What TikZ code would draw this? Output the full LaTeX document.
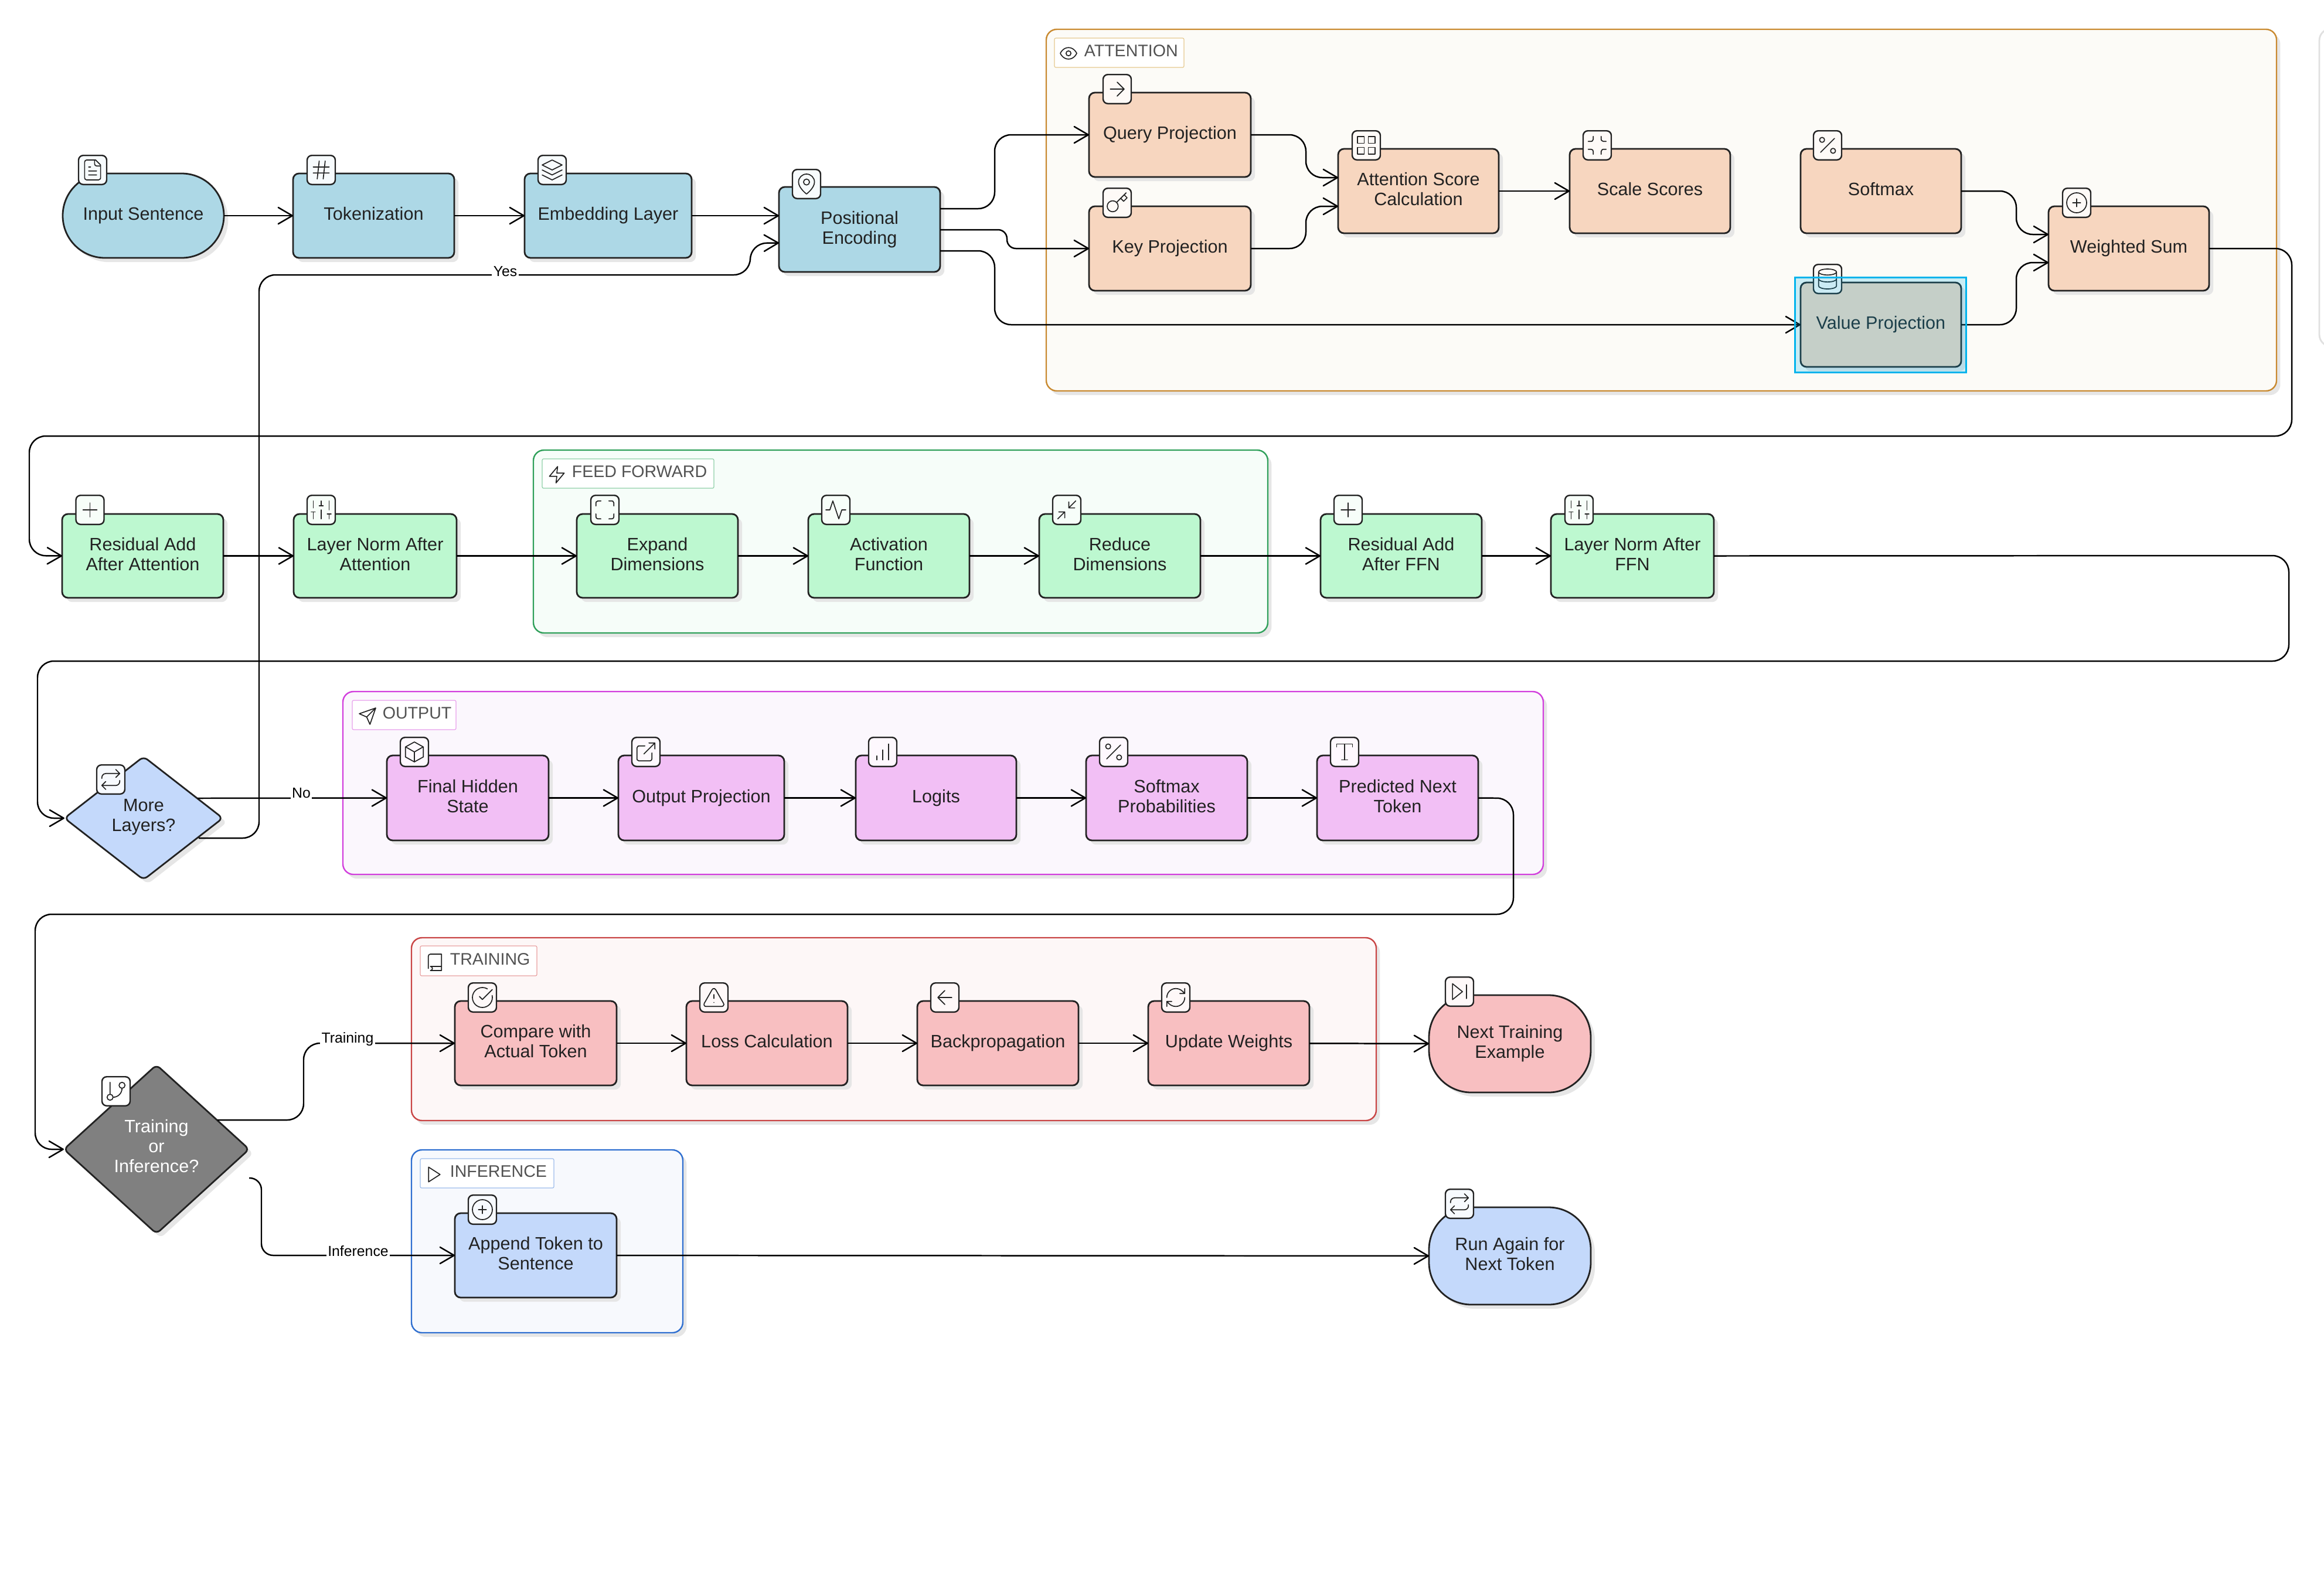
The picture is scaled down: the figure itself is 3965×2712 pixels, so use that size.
\documentclass[tikz,border=0pt]{standalone}
\usepackage{fontspec}
\setmainfont{Liberation Sans}
\usetikzlibrary{arrows.meta,shapes.geometric,shadows,calc,svg.path}
\definecolor{cBlue}{HTML}{ADD8E6}
\definecolor{cPeach}{HTML}{F7D6BF}
\definecolor{cGreen}{HTML}{BDF8D0}
\definecolor{cPink}{HTML}{F2BFF5}
\definecolor{cRed}{HTML}{F8BFC1}
\definecolor{cPale}{HTML}{C4D9FB}
\definecolor{cGray}{HTML}{808080}
\definecolor{cInk}{HTML}{222222}
\definecolor{cShadow}{HTML}{E6E6E6}
\definecolor{cSelect}{HTML}{00B3EC}
\definecolor{gA}{HTML}{FCFBF7}\definecolor{gAb}{HTML}{C98A30}\definecolor{gAl}{HTML}{E6C98F}
\definecolor{gF}{HTML}{F6FDF9}\definecolor{gFb}{HTML}{2FA05A}\definecolor{gFl}{HTML}{8FD0A8}
\definecolor{gO}{HTML}{FBF7FD}\definecolor{gOb}{HTML}{D23FDD}\definecolor{gOl}{HTML}{E8A0EC}
\definecolor{gT}{HTML}{FDF7F7}\definecolor{gTb}{HTML}{C94545}\definecolor{gTl}{HTML}{E8A0A0}
\definecolor{gI}{HTML}{F7F9FD}\definecolor{gIb}{HTML}{2F6FD0}\definecolor{gIl}{HTML}{9DBDEB}
\definecolor{tB}{HTML}{F7FBFD}\definecolor{tP}{HTML}{FEFAF7}\definecolor{tG}{HTML}{F7FEF9}
\definecolor{tK}{HTML}{FEF8FE}\definecolor{tR}{HTML}{FEF8F8}\definecolor{tL}{HTML}{F7FAFE}
\tikzset{
  x=0.25pt,y=-0.25pt,
  boxbase/.style={draw=cInk,line width=.7pt,rectangle,outer sep=0pt,inner sep=0pt,text=cInk,align=center,
    font=\fontsize{7.65}{8.5}\selectfont,
    drop shadow={shadow xshift=1.8pt,shadow yshift=-1.8pt,fill=cShadow,opacity=1}},
  proc/.style={boxbase,rounded corners=2.5pt,fill=#1,text depth=1.7pt},
  term/.style={boxbase,rounded corners=18pt,fill=#1,text depth=1.7pt},
  decide/.style={boxbase,diamond,rounded corners=2pt,fill=#1},
  grp/.style 2 args={rectangle,draw=#2,fill=#1,line width=.6pt,rounded corners=4.5pt,outer sep=0pt,inner sep=0pt,
    drop shadow={shadow xshift=1.6pt,shadow yshift=-1.8pt,fill=cShadow,opacity=1}},
  grplabel/.style={rectangle,draw=#1,fill=white,line width=.3pt,rounded corners=.6pt,outer sep=0pt,inner sep=0pt},
  grptext/.style={anchor=west,inner sep=0pt,text=black!68,font=\fontsize{7.15}{8}\selectfont},
  badge/.style={rectangle,draw=cInk,fill=#1,line width=.6pt,rounded corners=2pt,minimum width=12pt,minimum height=12.4pt,inner sep=0pt,outer sep=0pt},
  iconline/.style={draw=cInk,line width=.42pt,line cap=round,line join=round},
  conn/.style={draw=black,line width=.62pt,rounded corners=7pt,-{Straight Barb[length=6pt,width=7pt,line width=.62pt,round]}},
  edgelab/.style={fill=white,inner xsep=.6pt,inner ysep=1pt,text=black,font=\fontsize{6.2}{7}\selectfont},
  sidepanel/.style={rectangle,draw=black!12,fill=white,line width=.7pt,rounded corners=5pt,outer sep=0pt,inner sep=0pt},
}
\newcommand\nd[7][]{%
  \pgfmathsetmacro\ndcx{(#4+#6)/2}\pgfmathsetmacro\ndcy{(#5+#7)/2}%
  \pgfmathsetmacro\ndw{(#6-#4)*0.25}\pgfmathsetmacro\ndh{(#7-#5)*0.25}%
  \node[#2,minimum width=\ndw pt,minimum height=\ndh pt] (#3) at (\ndcx,\ndcy) {#1};}
\newcommand\svgdo[1]{\draw[iconline] svg {#1};}
\newcommand\icn[4]{\begin{scope}[shift={(#1,#2)},xscale=#3,yscale=-#3,shift={(-12pt,-12pt)}]\expandafter\svgdo\expandafter{#4}\end{scope}}
\newcommand\bdg[5]{\node[badge=#4] (#1) at (#2,#3) {};\icn{#2}{#3}{.425}{#5}}
% lucide outlines
\def\iFile{M 15 2 H 6 a 2 2 0 0 0 -2 2 v 16 a 2 2 0 0 0 2 2 h 12 a 2 2 0 0 0 2 -2 V 7 Z M 14 2 v 4 a 2 2 0 0 0 2 2 h 4 M 10 9 H 8 M 16 13 H 8 M 16 17 H 8}
\def\iHash{M 4 9 H 20 M 4 15 H 20 M 10 3 L 8 21 M 16 3 L 14 21}
\def\iLayers{M 12 2 L 2 7 L 12 12 L 22 7 Z M 2 17 L 12 22 L 22 17 M 2 12 L 12 17 L 22 12}
\def\iPin{M 20 10 c 0 6 -8 12 -8 12 c 0 0 -8 -6 -8 -12 c 0 -4.42 3.58 -8 8 -8 c 4.42 0 8 3.58 8 8 Z M 15 10 c 0 1.66 -1.34 3 -3 3 c -1.66 0 -3 -1.34 -3 -3 c 0 -1.66 1.34 -3 3 -3 c 1.66 0 3 1.34 3 3 Z}
\def\iRight{M 5 12 H 19 M 12 5 L 19 12 L 12 19}
\def\iKey{M 13 15.5 c 0 3.04 -2.46 5.5 -5.5 5.5 c -3.04 0 -5.5 -2.46 -5.5 -5.5 c 0 -3.04 2.46 -5.5 5.5 -5.5 c 3.04 0 5.5 2.46 5.5 5.5 Z M 21 2 L 11.4 11.6 M 15.5 7.5 L 18.5 10.5 L 22 7 L 19 4}
\def\iGrid{M 3 3 H 10 V 10 H 3 Z M 14 3 H 21 V 10 H 14 Z M 14 14 H 21 V 21 H 14 Z M 3 14 H 10 V 21 H 3 Z}
\def\iMin{M 8 3 v 3 a 2 2 0 0 1 -2 2 H 3 M 21 8 h -3 a 2 2 0 0 1 -2 -2 V 3 M 3 16 h 3 a 2 2 0 0 1 2 2 v 3 M 16 21 v -3 a 2 2 0 0 1 2 -2 h 3}
\def\iPct{M 19 5 L 5 19 M 9 6.5 c 0 1.38 -1.12 2.5 -2.5 2.5 c -1.38 0 -2.5 -1.12 -2.5 -2.5 c 0 -1.38 1.12 -2.5 2.5 -2.5 c 1.38 0 2.5 1.12 2.5 2.5 Z M 20 17.5 c 0 1.38 -1.12 2.5 -2.5 2.5 c -1.38 0 -2.5 -1.12 -2.5 -2.5 c 0 -1.38 1.12 -2.5 2.5 -2.5 c 1.38 0 2.5 1.12 2.5 2.5 Z}
\def\iPlusC{M 22 12 c 0 5.52 -4.48 10 -10 10 c -5.52 0 -10 -4.48 -10 -10 c 0 -5.52 4.48 -10 10 -10 c 5.52 0 10 4.48 10 10 Z M 8 12 H 16 M 12 8 V 16}
\def\iDb{M 21 5 c 0 1.66 -4.03 3 -9 3 c -4.97 0 -9 -1.34 -9 -3 c 0 -1.66 4.03 -3 9 -3 c 4.97 0 9 1.34 9 3 Z M 3 5 V 19 c 0 1.66 4.03 3 9 3 c 4.97 0 9 -1.34 9 -3 V 5 M 3 12 c 0 1.66 4.03 3 9 3 c 4.97 0 9 -1.34 9 -3}
\def\iPlus{M 5 12 H 19 M 12 5 V 19}
\def\iSliders{M 4 21 V 14 M 4 10 V 3 M 12 21 V 12 M 12 8 V 3 M 20 21 V 16 M 20 12 V 3 M 2 14 H 6 M 10 8 H 14 M 18 16 H 22}
\def\iMax{M 8 3 H 5 a 2 2 0 0 0 -2 2 v 3 M 21 8 V 5 a 2 2 0 0 0 -2 -2 h -3 M 3 16 v 3 a 2 2 0 0 0 2 2 h 3 M 16 21 h 3 a 2 2 0 0 0 2 -2 v -3}
\def\iPulse{M 22 12 L 18 12 L 15 21 L 9 3 L 6 12 L 2 12}
\def\iMinTwo{M 4 14 L 10 14 L 10 20 M 20 10 L 14 10 L 14 4 M 14 10 L 21 3 M 3 21 L 10 14}
\def\iRepeat{M 17 2 l 4 4 l -4 4 M 3 11 v -1 a 4 4 0 0 1 4 -4 h 14 M 7 22 l -4 -4 l 4 -4 M 21 13 v 1 a 4 4 0 0 1 -4 4 H 3}
\def\iBox{M 12 2 L 21 7 V 17 L 12 22 L 3 17 V 7 Z M 3.3 7 L 12 12 L 20.7 7 M 12 22 V 12}
\def\iExt{M 15 3 h 6 v 6 M 10 14 L 21 3 M 18 13 v 6 a 2 2 0 0 1 -2 2 H 5 a 2 2 0 0 1 -2 -2 V 8 a 2 2 0 0 1 2 -2 h 6}
\def\iBars{M 12 20 V 10 M 18 20 V 4 M 6 20 V 16}
\def\iType{M 4 7 L 4 4 L 20 4 L 20 7 M 9 20 L 15 20 M 12 4 L 12 20}
\def\iCheck{M 21.8 10 A 10 10 0 1 1 17 3.335 M 9 11 l 3 3 L 22 4}
\def\iWarn{M 21.73 18 l -8 -14 a 2 2 0 0 0 -3.48 0 l -8 14 A 2 2 0 0 0 4 21 h 16 a 2 2 0 0 0 1.73 -3 Z M 12 9 v 4 M 12 17 h 0.01}
\def\iLeft{M 12 19 l -7 -7 l 7 -7 M 19 12 H 5}
\def\iRefresh{M 3 12 a 9 9 0 0 1 9 -9 a 9.75 9.75 0 0 1 6.74 2.74 L 21 8 M 21 3 v 5 h -5 M 21 12 a 9 9 0 0 1 -9 9 a 9.75 9.75 0 0 1 -6.74 -2.74 L 3 16 M 8 16 H 3 v 5}
\def\iSkip{M 5 4 L 15 12 L 5 20 Z M 19 5 V 19}
\def\iBranch{M 6 3 V 15 M 21 6 c 0 1.66 -1.34 3 -3 3 c -1.66 0 -3 -1.34 -3 -3 c 0 -1.66 1.34 -3 3 -3 c 1.66 0 3 1.34 3 3 Z M 9 18 c 0 1.66 -1.34 3 -3 3 c -1.66 0 -3 -1.34 -3 -3 c 0 -1.66 1.34 -3 3 -3 c 1.66 0 3 1.34 3 3 Z M 18 9 c 0 4.97 -4.03 9 -9 9}
\def\iEye{M 2 12 c 0 0 3 -7 10 -7 c 7 0 10 7 10 7 c 0 0 -3 7 -10 7 c -7 0 -10 -7 -10 -7 Z M 15 12 c 0 1.66 -1.34 3 -3 3 c -1.66 0 -3 -1.34 -3 -3 c 0 -1.66 1.34 -3 3 -3 c 1.66 0 3 1.34 3 3 Z}
\def\iZap{M 13 2 L 3 14 L 12 14 L 11 22 L 21 10 L 12 10 Z}
\def\iSend{M 22 2 L 15 22 L 11 13 L 2 9 Z M 22 2 L 11 13}
\def\iBook{M 4 19.5 v -15 A 2.5 2.5 0 0 1 6.5 2 H 20 v 20 H 6.5 a 2.5 2.5 0 0 1 0 -5 H 20}
\def\iPlay{M 5 3 L 19 12 L 5 21 Z}
\begin{document}
\begin{tikzpicture}
\useasboundingbox (0,0) rectangle (3965,2712);
\fill[white] (0,0) rectangle (3965,2712);
\nd{sidepanel}{side}{3957}{49}{4020}{591}
% groups
\nd{grp={gA}{gAb}}{gAttn}{1785}{50}{3884}{667}
\nd{grp={gF}{gFb}}{gFeed}{910}{768}{2163}{1080}
\nd{grp={gO}{gOb}}{gOut}{585}{1180}{2633}{1492}
\nd{grp={gT}{gTb}}{gTrain}{702}{1600}{2348}{1912}
\nd{grp={gI}{gIb}}{gInf}{702}{1962}{1165}{2274}
% group titles
\nd{grplabel=gAl}{lAttn}{1799}{65}{2020}{115}
\node[grptext] (tAttn) at (1849,87) {ATTENTION};
\icn{1823}{91}{.35}{\iEye}
\nd{grplabel=gFl}{lFeed}{925}{783}{1218}{833}
\node[grptext] (tFeed) at (975,805) {FEED FORWARD};
\icn{950}{810}{.35}{\iZap}
\nd{grplabel=gOl}{lOut}{601}{1195}{778}{1245}
\node[grptext] (tOut) at (652,1217) {OUTPUT};
\icn{627}{1222}{.35}{\iSend}
\nd{grplabel=gTl}{lTrain}{717}{1614}{916}{1665}
\node[grptext] (tTrain) at (767,1637) {TRAINING};
\icn{742}{1642}{.35}{\iBook}
\nd{grplabel=gIl}{lInf}{717}{1977}{945}{2027}
\node[grptext] (tInf) at (767,1999) {INFERENCE};
\icn{741}{2004}{.35}{\iPlay}
% nodes
\nd[Input Sentence]{term=cBlue}{input}{107}{296}{382}{440}
\nd[Tokenization]{proc=cBlue}{tok}{500}{296}{775}{440}
\nd[Embedding Layer]{proc=cBlue}{emb}{895}{296}{1180}{440}
\nd[Positional\\Encoding]{proc=cBlue}{pos}{1329}{319}{1604}{464}
\nd[Query Projection]{proc=cPeach}{query}{1858}{158}{2134}{302}
\nd[Key Projection]{proc=cPeach}{key}{1858}{352}{2134}{496}
\nd[Attention Score\\Calculation]{proc=cPeach}{score}{2283}{254}{2557}{398}
\nd[Scale Scores]{proc=cPeach}{scale}{2678}{254}{2952}{398}
\nd[Softmax]{proc=cPeach}{softmax}{3072}{254}{3346}{398}
\nd[Weighted Sum]{proc=cPeach}{wsum}{3495}{352}{3769}{496}
\nd[Value Projection]{proc=cPeach}{value}{3072}{482}{3346}{626}
\nd[Residual Add\\After Attention]{proc=cGreen}{res}{106}{877}{381}{1020}
\nd[Layer Norm After\\Attention]{proc=cGreen}{ln}{501}{877}{779}{1020}
\nd[Expand\\Dimensions]{proc=cGreen}{expand}{984}{877}{1259}{1020}
\nd[Activation\\Function]{proc=cGreen}{act}{1379}{877}{1654}{1020}
\nd[Reduce\\Dimensions]{proc=cGreen}{reduce}{1773}{877}{2048}{1020}
\nd[Residual Add\\After FFN]{proc=cGreen}{res2}{2253}{877}{2528}{1020}
\nd[Layer Norm After\\FFN]{proc=cGreen}{ln2}{2646}{877}{2924}{1020}
\nd[Final Hidden\\State]{proc=cPink}{final}{660}{1289}{936}{1434}
\nd[Output Projection]{proc=cPink}{op}{1055}{1289}{1338}{1434}
\nd[Logits]{proc=cPink}{logits}{1460}{1289}{1734}{1434}
\nd[Softmax\\Probabilities]{proc=cPink}{softp}{1853}{1289}{2128}{1434}
\nd[Predicted Next\\Token]{proc=cPink}{pred}{2247}{1289}{2522}{1434}
\nd[Compare with\\Actual Token]{proc=cRed}{compare}{776}{1708}{1052}{1852}
\nd[Loss Calculation]{proc=cRed}{loss}{1171}{1708}{1446}{1852}
\nd[Backpropagation]{proc=cRed}{back}{1565}{1708}{1840}{1852}
\nd[Update Weights]{proc=cRed}{update}{1959}{1708}{2234}{1852}
\nd[Next Training\\Example]{term=cRed}{next}{2438}{1698}{2714}{1864}
\nd[Append Token to\\Sentence]{proc=cPale}{append}{776}{2070}{1052}{2214}
\nd[Run Again for\\Next Token]{term=cPale}{run}{2438}{2060}{2714}{2226}
\node[decide=cPale,minimum width=67.5pt,minimum height=52.5pt,aspect=1.286,text depth=2.3pt] (more) at (245,1396) {More\\Layers?};
\node[decide=cGray,text=white,minimum width=79pt,minimum height=72pt,aspect=1.097,text depth=2.6pt] (trn) at (267,1961) {Training\\or\\Inference?};
% badges
\bdg{bInput}{158}{290}{tB}{\iFile}
\bdg{bTok}{548}{290}{tB}{\iHash}
\bdg{bEmb}{942}{290}{tB}{\iLayers}
\bdg{bPos}{1376}{314}{tB}{\iPin}
\bdg{bQuery}{1906}{152}{tP}{\iRight}
\bdg{bKey}{1906}{346}{tP}{\iKey}
\bdg{bScore}{2331}{248}{tP}{\iGrid}
\bdg{bScale}{2725}{248}{tP}{\iMin}
\bdg{bSoft}{3118}{248}{tP}{\iPct}
\bdg{bSum}{3543}{346}{tP}{\iPlusC}
\bdg{bVal}{3118}{476}{tP}{\iDb}
\bdg{bRes}{153.5}{870}{tG}{\iPlus}
\bdg{bLn}{548}{870}{tG}{\iSliders}
\bdg{bExp}{1032}{870}{tG}{\iMax}
\bdg{bAct}{1426}{870}{tG}{\iPulse}
\bdg{bRed}{1820}{870}{tG}{\iMinTwo}
\bdg{bResT}{2300}{870}{tG}{\iPlus}
\bdg{bLnT}{2694}{870}{tG}{\iSliders}
\bdg{bMore}{189}{1330}{tL}{\iRepeat}
\bdg{bFinal}{707}{1283}{tK}{\iBox}
\bdg{bOp}{1102}{1283}{tK}{\iExt}
\bdg{bLog}{1506}{1283}{tK}{\iBars}
\bdg{bSoftP}{1900}{1283}{tK}{\iPct}
\bdg{bPred}{2294}{1283}{tK}{\iType}
\bdg{bTrn}{198}{1862}{white}{\iBranch}
\bdg{bCmp}{823}{1702}{tR}{\iCheck}
\bdg{bLoss}{1218}{1702}{tR}{\iWarn}
\bdg{bBack}{1612}{1702}{tR}{\iLeft}
\bdg{bUpd}{2006}{1702}{tR}{\iRefresh}
\bdg{bNext}{2490}{1692}{tR}{\iSkip}
\bdg{bApp}{823}{2064}{tL}{\iPlusC}
\bdg{bRun}{2490}{2054}{tL}{\iRepeat}
% connectors
\draw[conn] (input) -- (tok);
\draw[conn] (tok) -- (emb);
\draw[conn] (emb.east) -- (emb.east -| pos.west);
\draw[conn] ($(pos.east)+(0,-35.5)$) -- (1697,356) -- (1697,230) -- (query.west);
\draw[conn,rounded corners=3.8pt] ($(pos.east)+(0,.5)$) -- (1718,392) -- (1718,424) -- (key.west);
\draw[conn] ($(pos.east)+(0,36.5)$) -- (1697,428) -- (1697,554) -- (value.west);
\draw[conn] (query.east) -- (2228,230) -- (2228,303) -- ($(score.west)+(0,-23)$);
\draw[conn] (key.east) -- (2228,424) -- (2228,352) -- ($(score.west)+(0,26)$);
\draw[conn] (score) -- (scale);
\draw[conn] (softmax.east) -- (3440,326) -- (3440,400) -- ($(wsum.west)+(0,-24)$);
\draw[conn] (value.east) -- (3440,554) -- (3440,448) -- ($(wsum.west)+(0,24)$);
\draw[conn] (wsum.east) -- (3910,424) -- (3910,744) -- (50,744) -- (50,948) -- (res.west);
\draw[conn] (res) -- (ln);
\draw[conn] (ln) -- (expand);
\draw[conn] (expand) -- (act);
\draw[conn] (act) -- (reduce);
\draw[conn] (reduce) -- (res2);
\draw[conn] (res2) -- (ln2);
\draw[conn] (ln2.east) -- (3905,948) -- (3905,1128) -- (64,1128) -- (64,1396) -- (more.west);
\draw[conn] ($(more.center)+(92,-34)$) -- (final.west);
\draw[conn] ($(more.center)+(94,34)$) -- (442,1430) -- (442,469) -- (1280,469) -- (1280,415) -- ($(pos.west)+(0,23)$);
\draw[conn] (final) -- (op);
\draw[conn] (op) -- (logits);
\draw[conn] (logits) -- (softp);
\draw[conn] (softp) -- (pred);
\draw[conn] (pred.east) -- (2582,1362) -- (2582,1560) -- (60,1560) -- (60,1961) -- (trn.west);
\draw[conn] ($(trn.center)+(104,-50)$) -- (518,1911) -- (518,1780) -- (compare.west);
\draw[conn] (compare) -- (loss);
\draw[conn] (loss) -- (back);
\draw[conn] (back) -- (update);
\draw[conn] (update) -- (next);
\draw[conn,rounded corners=5pt] ($(trn.center)+(158,49)$) -- (446,2010) -- (446,2142) -- (append.west);
\draw[conn] (append) -- (run);
% connector labels
\node[edgelab] (eYes) at (862,463) {Yes};
\node[edgelab] (eNo) at (514,1353) {No};
\node[edgelab] (eTrain) at (593,1773) {Training};
\node[edgelab] (eInf) at (611,2135) {Inference};
% selection highlight
\draw[draw=cSelect,line width=.75pt,fill=cSelect,fill opacity=.2] (3062,473) rectangle (3354,635);
\end{tikzpicture}
\end{document}
